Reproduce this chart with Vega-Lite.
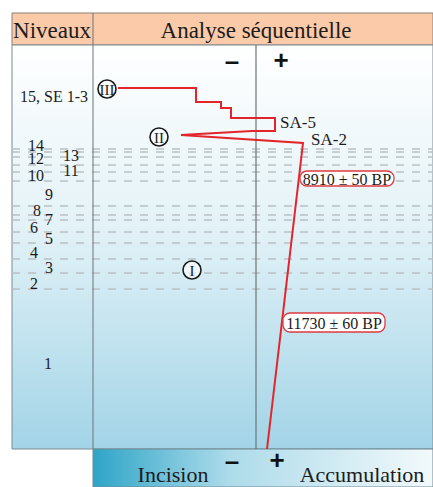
{
  "$schema": "https://vega.github.io/schema/vega-lite/v6.json",
  "width": 433,
  "height": 487,
  "autosize": {"type": "none"},
  "padding": 0,
  "background": "#ffffff",
  "config": {"view": {"stroke": null}, "text": {"font": "Liberation Serif", "color": "#1c1c1c"}},
  "datasets": {
    "header": [{"x": 12, "x2": 433, "y": 13, "y2": 45}],
    "panel": [{"x": 12, "x2": 433, "y": 45, "y2": 449}],
    "bottom": [{"x": 93, "x2": 433, "y": 449, "y2": 487}],
    "dividers": [
      {"x": 93, "x2": 93, "y": 13, "y2": 449, "kind": "column"}
    ],
    "axisline": [{"x": 256, "x2": 256, "y": 45, "y2": 449}],
    "levels": [
      {"x": 12, "x2": 433, "y": 149}, {"x": 12, "x2": 433, "y": 152}, {"x": 12, "x2": 433, "y": 157},
      {"x": 12, "x2": 433, "y": 165}, {"x": 12, "x2": 433, "y": 172}, {"x": 12, "x2": 433, "y": 181},
      {"x": 12, "x2": 433, "y": 206}, {"x": 12, "x2": 433, "y": 215}, {"x": 12, "x2": 433, "y": 220},
      {"x": 12, "x2": 433, "y": 232}, {"x": 12, "x2": 433, "y": 243}, {"x": 12, "x2": 433, "y": 259},
      {"x": 12, "x2": 433, "y": 273}, {"x": 12, "x2": 433, "y": 289}
    ],
    "curve": [
      {"order": 1, "x": 118, "y": 88}, {"order": 2, "x": 196, "y": 88}, {"order": 3, "x": 196, "y": 102},
      {"order": 4, "x": 221, "y": 102}, {"order": 5, "x": 221, "y": 108}, {"order": 6, "x": 231, "y": 108},
      {"order": 7, "x": 231, "y": 118}, {"order": 8, "x": 275, "y": 118}, {"order": 9, "x": 275, "y": 131},
      {"order": 10, "x": 252, "y": 131}, {"order": 11, "x": 181, "y": 135}, {"order": 12, "x": 303, "y": 143},
      {"order": 13, "x": 267, "y": 449}
    ],
    "phases": [
      {"x": 107, "y": 89, "label": "III"}, {"x": 159, "y": 137, "label": "II"}, {"x": 192, "y": 270, "label": "I"}
    ],
    "dates": [
      {"x": 300, "x2": 394, "y": 171, "y2": 186, "cx": 347, "cy": 178.5, "label": "8910 ± 50 BP"},
      {"x": 283, "x2": 385, "y": 313, "y2": 332, "cx": 334, "cy": 322.5, "label": "11730 ± 60 BP"}
    ],
    "titles": [
      {"x": 52, "y": 30, "label": "Niveaux"}, {"x": 256, "y": 30, "label": "Analyse séquentielle"}
    ],
    "niveaux": [
      {"x": 54, "y": 96, "label": "15, SE 1-3"},
      {"x": 36, "y": 145, "label": "14"}, {"x": 36, "y": 158, "label": "12"}, {"x": 36, "y": 175, "label": "10"},
      {"x": 71, "y": 155, "label": "13"}, {"x": 71, "y": 170, "label": "11"}, {"x": 49, "y": 194, "label": "9"},
      {"x": 37, "y": 210, "label": "8"}, {"x": 49, "y": 219, "label": "7"}, {"x": 34, "y": 227, "label": "6"},
      {"x": 49, "y": 238, "label": "5"}, {"x": 34, "y": 252, "label": "4"}, {"x": 49, "y": 267, "label": "3"},
      {"x": 34, "y": 283, "label": "2"}, {"x": 48, "y": 363, "label": "1"}
    ],
    "sections": [
      {"x": 280, "y": 122, "label": "SA-5"}, {"x": 311, "y": 139, "label": "SA-2"}
    ],
    "signs": [
      {"x": 232, "y": 62, "label": "–"}, {"x": 281, "y": 61, "label": "+"},
      {"x": 232, "y": 462, "label": "–"}, {"x": 277, "y": 461, "label": "+"}
    ],
    "ends": [
      {"x": 173, "y": 474, "label": "Incision"}, {"x": 362, "y": 474, "label": "Accumulation"}
    ]
  },
  "encoding": {
    "x": {"field": "x", "type": "quantitative", "scale": {"domain": [0, 433], "nice": false, "zero": false}, "axis": null},
    "y": {"field": "y", "type": "quantitative", "scale": {"domain": [0, 487], "nice": false, "zero": false, "reverse": true}, "axis": null}
  },
  "layer": [
    {
      "data": {"name": "header"},
      "mark": {"type": "rect", "fill": "#fbcaa9", "stroke": "#8c8078", "strokeWidth": 1},
      "encoding": {"x2": {"field": "x2"}, "y2": {"field": "y2"}}
    },
    {
      "data": {"name": "panel"},
      "mark": {"type": "rect", "stroke": "#7d8a90", "strokeWidth": 1,
        "fill": {"gradient": "linear", "x1": 0, "y1": 0, "x2": 0, "y2": 1,
          "stops": [{"offset": 0, "color": "#ffffff"}, {"offset": 0.45, "color": "#e3f2f7"}, {"offset": 1, "color": "#a2d4e7"}]}},
      "encoding": {"x2": {"field": "x2"}, "y2": {"field": "y2"}}
    },
    {
      "data": {"name": "bottom"},
      "mark": {"type": "rect", "stroke": "#6f8a94", "strokeWidth": 1,
        "fill": {"gradient": "linear", "x1": 0, "y1": 0, "x2": 1, "y2": 0,
          "stops": [{"offset": 0, "color": "#2ea5c7"}, {"offset": 0.4, "color": "#addbea"}, {"offset": 1, "color": "#f2f9fb"}]}},
      "encoding": {"x2": {"field": "x2"}, "y2": {"field": "y2"}}
    },
    {
      "data": {"name": "levels"},
      "mark": {"type": "rule", "stroke": "#b8c0c4", "strokeWidth": 1.4, "strokeDash": [8, 8]},
      "encoding": {"x2": {"field": "x2"}}
    },
    {
      "data": {"name": "dividers"},
      "mark": {"type": "rule", "stroke": "#6e7478", "strokeWidth": 1},
      "encoding": {"x2": {"field": "x2"}, "y2": {"field": "y2"}}
    },
    {
      "data": {"name": "axisline"},
      "mark": {"type": "rule", "stroke": "#6e7478", "strokeWidth": 1.2},
      "encoding": {"x2": {"field": "x2"}, "y2": {"field": "y2"}}
    },
    {
      "data": {"name": "curve"},
      "mark": {"type": "line", "stroke": "#e3242b", "strokeWidth": 2, "interpolate": "linear"},
      "encoding": {"order": {"field": "order", "type": "quantitative"}}
    },
    {
      "data": {"name": "phases"},
      "mark": {"type": "point", "shape": "circle", "size": 324, "filled": false, "stroke": "#1a1a1a", "strokeWidth": 1.6, "fill": "#ffffff", "fillOpacity": 0.6, "opacity": 1}
    },
    {
      "data": {"name": "phases"},
      "mark": {"type": "text", "fontSize": 15, "align": "center", "baseline": "middle", "dy": 1},
      "encoding": {"text": {"field": "label"}}
    },
    {
      "data": {"name": "dates"},
      "mark": {"type": "rect", "fill": "#ffffff", "stroke": "#e03a40", "strokeWidth": 1.3, "cornerRadius": 7},
      "encoding": {"x2": {"field": "x2"}, "y2": {"field": "y2"}}
    },
    {
      "data": {"name": "dates"},
      "mark": {"type": "text", "fontSize": 16, "align": "center", "baseline": "middle", "dy": 1},
      "encoding": {"x": {"field": "cx", "type": "quantitative"}, "y": {"field": "cy", "type": "quantitative"}, "text": {"field": "label"}}
    },
    {
      "data": {"name": "titles"},
      "mark": {"type": "text", "fontSize": 23, "align": "center", "baseline": "middle", "dy": 1},
      "encoding": {"text": {"field": "label"}}
    },
    {
      "data": {"name": "niveaux"},
      "mark": {"type": "text", "fontSize": 16, "align": "center", "baseline": "middle", "dy": 1},
      "encoding": {"text": {"field": "label"}}
    },
    {
      "data": {"name": "sections"},
      "mark": {"type": "text", "fontSize": 17, "align": "left", "baseline": "middle", "dy": 1},
      "encoding": {"text": {"field": "label"}}
    },
    {
      "data": {"name": "signs"},
      "mark": {"type": "text", "font": "Liberation Sans", "fontWeight": "bold", "fontSize": 26, "align": "center", "baseline": "middle", "color": "#111111"},
      "encoding": {"text": {"field": "label"}}
    },
    {
      "data": {"name": "ends"},
      "mark": {"type": "text", "fontSize": 22, "align": "center", "baseline": "middle", "dy": 1},
      "encoding": {"text": {"field": "label"}}
    }
  ]
}
